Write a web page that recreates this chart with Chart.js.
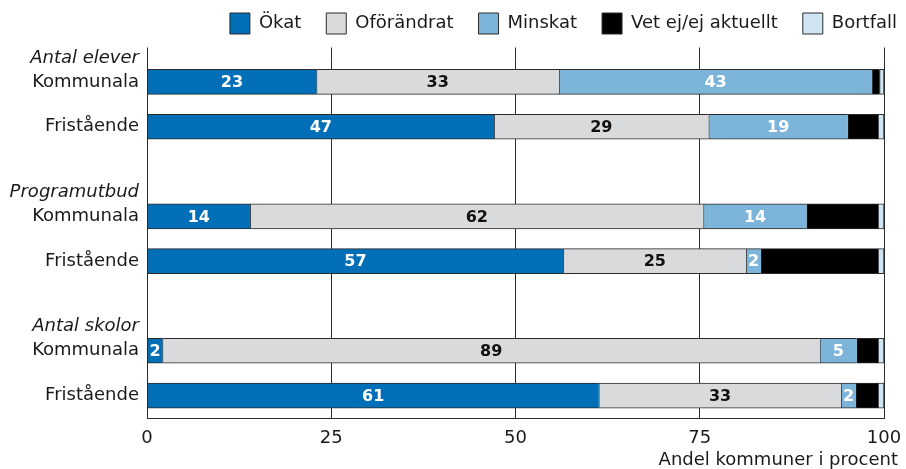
<!DOCTYPE html>
<html lang="sv">
<head>
<meta charset="utf-8">
<title>Förändring per kommun</title>
<script src="https://cdn.jsdelivr.net/npm/chart.js@4.4.1/dist/chart.umd.min.js"></script>
<style>
  html, body { margin: 0; padding: 0; background: #fff; }
  #wrap { width: 906px; height: 469px; position: relative; }
</style>
</head>
<body>
<div id="wrap"><canvas id="chart"></canvas></div>
<script>
// rows: two per group, an empty slot between groups
const rowLabels = ['Kommunala', 'Fristående', '', 'Kommunala', 'Fristående', '', 'Kommunala', 'Fristående'];
const groupTitles = ['Antal elever', 'Programutbud', 'Antal skolor'];
const groupRows = [0, 3, 6];

const okat     = [23.0, 47.1, null, 14.0, 56.5, null,  2.1, 61.3];
const ofor     = [32.9, 29.1, null, 61.5, 24.8, null, 89.2, 32.9];
const minskat  = [42.5, 18.9, null, 14.0,  2.0, null,  5.0,  2.0];
const vetEj    = [ 1.0,  4.1, null,  9.7, 15.9, null,  2.9,  3.0];
const bortfall = [ 0.6,  0.8, null,  0.8,  0.8, null,  0.8,  0.8];

const xTicks = [0, 25, 50, 75, 100];
const xTitle = 'Andel kommuner i procent';

const lineColor = '#2b2b2b';
const inner = { top: 1, bottom: 1, left: 1, right: 0 };

Chart.defaults.font.family = '"DejaVu Sans", sans-serif';
Chart.defaults.font.size = 18;
Chart.defaults.color = '#1a1a1a';

// value labels, group headings, axis title and the grid stubs above the plot
const annotate = {
  id: 'annotate',
  beforeDatasetsDraw(chart) {
    const { ctx, chartArea, scales: { x } } = chart;
    ctx.save();
    ctx.strokeStyle = lineColor;
    ctx.lineWidth = 1;
    ctx.beginPath();
    for (const v of xTicks) {
      const px = Math.round(x.getPixelForValue(v) - 0.5) + 0.5;
      ctx.moveTo(px, chartArea.top - 12);
      ctx.lineTo(px, chartArea.top);
    }
    ctx.stroke();
    ctx.restore();
  },
  afterDatasetsDraw(chart) {
    const { ctx } = chart;
    const textColors = ['#ffffff', '#111111', '#ffffff'];
    ctx.save();
    ctx.font = 'bold 16px "DejaVu Sans", sans-serif';
    ctx.textAlign = 'center';
    ctx.textBaseline = 'middle';
    textColors.forEach((color, di) => {
      const meta = chart.getDatasetMeta(di);
      const values = chart.data.datasets[di].data;
      ctx.fillStyle = color;
      meta.data.forEach((bar, i) => {
        const v = values[i];
        if (v == null || v < 1.5) return;
        ctx.fillText(String(Math.round(v)), (bar.x + bar.base) / 2, bar.y + 1);
      });
    });
    ctx.restore();
  },
  afterDraw(chart) {
    const { ctx, scales: { x, y } } = chart;
    ctx.save();
    ctx.fillStyle = '#1a1a1a';
    ctx.textBaseline = 'middle';
    ctx.textAlign = 'right';
    ctx.font = 'italic 18px "DejaVu Sans", sans-serif';
    groupTitles.forEach((t, i) => {
      ctx.fillText(t, y.right - 8, y.getPixelForValue(groupRows[i]) - 24);
    });
    ctx.font = '18px "DejaVu Sans", sans-serif';
    ctx.fillText(xTitle, x.right + 14, 460);
    ctx.restore();
  }
};

new Chart(document.getElementById('chart'), {
  type: 'bar',
  data: {
    labels: rowLabels,
    datasets: [
      { label: 'Ökat', data: okat, backgroundColor: '#006fb7', borderWidth: inner },
      { label: 'Oförändrat', data: ofor, backgroundColor: '#d9dadb', borderWidth: inner },
      { label: 'Minskat', data: minskat, backgroundColor: '#7db5da', borderWidth: inner },
      { label: 'Vet ej/ej aktuellt', data: vetEj, backgroundColor: '#000000', borderWidth: inner },
      { label: 'Bortfall', data: bortfall, backgroundColor: '#cfe5f3', borderWidth: 1 },
    ],
  },
  options: {
    indexAxis: 'y',
    responsive: true,
    maintainAspectRatio: false,
    animation: false,
    layout: { padding: { top: -12, right: -16, bottom: 0, left: 0 } },
    datasets: {
      bar: { barThickness: 25, borderColor: lineColor, borderSkipped: false },
    },
    plugins: {
      legend: {
        position: 'top',
        align: 'end',
        weight: 1000,
        labels: {
          boxWidth: 20,
          boxHeight: 21,
          padding: 25,
          color: '#1a1a1a',
          font: { size: 18 },
          generateLabels(chart) {
            return Chart.defaults.plugins.legend.labels.generateLabels(chart).map(l => ({
              ...l, lineWidth: 1, strokeStyle: lineColor,
            }));
          },
        },
      },
      // empty spacer between legend and plot
      title: { display: true, text: '', weight: 500, font: { size: 10, lineHeight: 1.2 }, padding: { top: 3.5, bottom: 0 } },
      tooltip: { enabled: false },
    },
    scales: {
      x: {
        stacked: true,
        min: 0,
        max: 100,
        afterBuildTicks: s => { s.ticks = xTicks.map(v => ({ value: v })); },
        afterFit: s => { s.height = 51; s.paddingRight = 22; },
        grid: { color: lineColor, lineWidth: 1, drawTicks: false },
        border: { color: lineColor, width: 1 },
        ticks: { padding: 10, color: '#1a1a1a', font: { size: 18 } },
      },
      y: {
        stacked: true,
        afterFit: s => { s.width = 147; },
        grid: { display: false, drawTicks: false },
        border: { color: lineColor, width: 1 },
        ticks: { padding: 8, color: '#1a1a1a', font: { size: 18 } },
      },
    },
  },
  plugins: [annotate],
});
</script>
</body>
</html>
